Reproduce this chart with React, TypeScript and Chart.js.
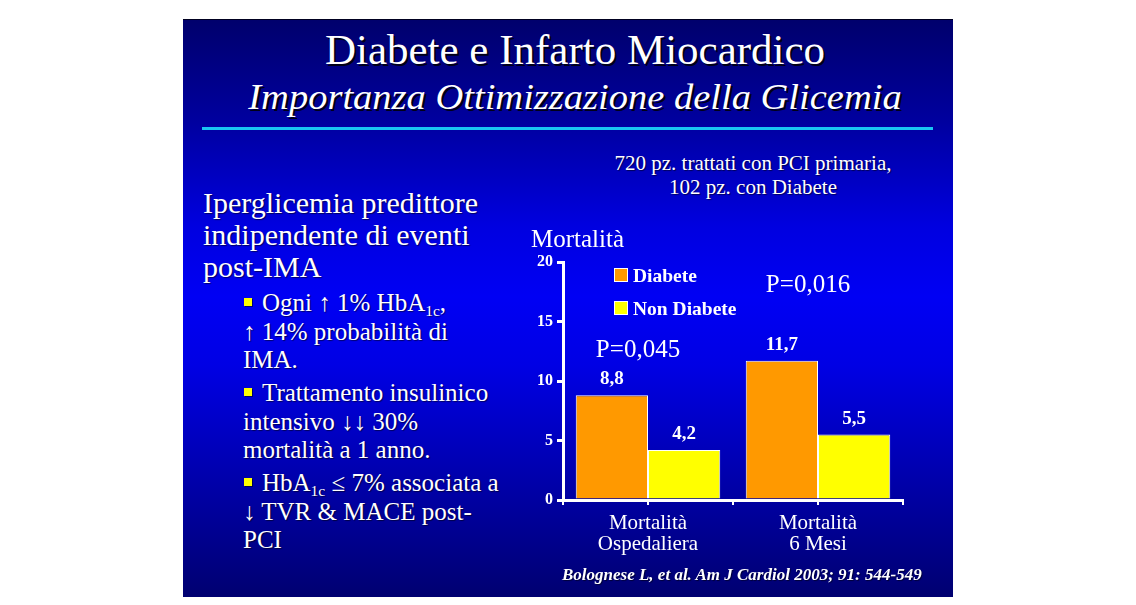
import React, { useEffect, useRef } from "react";
import { Chart, registerables } from "chart.js";

Chart.register(...registerables);

const categories: string[][] = [["Mortalità", "Ospedaliera"], ["Mortalità", "6 Mesi"]];
const seriesNames = ["Diabete", "Non Diabete"];
const diabete = [8.8, 11.7];
const nonDiabete = [4.2, 5.5];
const seriesColors = ["#FF9900", "#FFFF00"];
const pValues = ["P=0,045", "P=0,016"];
const pLevels = [12.0, 17.5];
const yTicks = [0, 5, 10, 15, 20];

const SERIF = "'Liberation Serif', 'Times New Roman', serif";

const fmt = (v: number) => v.toFixed(1).replace(".", ",");

const overlayPlugin = {
  id: "slideOverlay",
  afterDraw(chart: any) {
    const ctx = chart.ctx;
    const xs = chart.scales.x;
    const ys = chart.scales.y;
    const area = chart.chartArea;
    ctx.save();
    // x-axis tick marks at category boundaries and centres
    ctx.strokeStyle = "#ffffff";
    ctx.lineWidth = 2;
    const n = chart.data.labels.length;
    for (let i = 0; i <= n * 2; i++) {
      const v = -0.5 + i * 0.5;
      const px = xs.getPixelForValue(v);
      ctx.beginPath();
      ctx.moveTo(px, area.bottom);
      ctx.lineTo(px, area.bottom + 5);
      ctx.stroke();
    }
    // value labels
    ctx.fillStyle = "#ffffff";
    ctx.font = `bold 19px ${SERIF}`;
    ctx.textAlign = "center";
    ctx.textBaseline = "alphabetic";
    chart.data.datasets.forEach((ds: any, di: number) => {
      const meta = chart.getDatasetMeta(di);
      meta.data.forEach((bar: any, i: number) => {
        ctx.fillText(fmt(ds.data[i]), bar.x, bar.y - 11);
      });
    });
    // p-values
    ctx.font = `25px ${SERIF}`;
    pValues.forEach((t, i) => {
      ctx.fillText(t, xs.getPixelForValue(i) - 10, ys.getPixelForValue(pLevels[i]));
    });
    // y-axis title
    ctx.textAlign = "left";
    ctx.font = `25px ${SERIF}`;
    ctx.fillText("Mortalità", area.left - 32, area.top - 15);
    // legend
    ctx.font = `bold 19.5px ${SERIF}`;
    chart.data.datasets.forEach((ds: any, di: number) => {
      const lx = area.left + 51;
      const ly = area.top + 6 + di * 33;
      ctx.fillStyle = ds.backgroundColor;
      ctx.fillRect(lx, ly, 14, 14);
      ctx.strokeStyle = "#ffffff";
      ctx.lineWidth = 1;
      ctx.strokeRect(lx + 0.5, ly + 0.5, 13, 13);
      ctx.fillStyle = "#ffffff";
      ctx.fillText(ds.label, lx + 19, ly + 14);
    });
    ctx.restore();
  },
};

function BarChart() {
  const ref = useRef<HTMLCanvasElement>(null);
  useEffect(() => {
    if (!ref.current) return;
    const chart = new Chart(ref.current, {
      type: "bar",
      data: {
        labels: categories,
        datasets: [
          {
            label: seriesNames[0],
            data: diabete,
            backgroundColor: seriesColors[0],
            borderColor: "#ffffff",
            borderWidth: 1,
          },
          {
            label: seriesNames[1],
            data: nonDiabete,
            backgroundColor: seriesColors[1],
            borderColor: "#ffffff",
            borderWidth: 1,
          },
        ],
      },
      options: {
        animation: false,
        responsive: false,
        maintainAspectRatio: false,
        layout: { padding: { top: 41, right: 27, left: 0, bottom: 0 } },
        plugins: { legend: { display: false }, tooltip: { enabled: false } },
        datasets: { bar: { categoryPercentage: 0.85, barPercentage: 1 } },
        scales: {
          x: {
            grid: { display: false },
            border: { display: true, color: "#ffffff", width: 3 },
            ticks: {
              color: "#ffffff",
              font: { family: SERIF, size: 21, lineHeight: 1.0 },
              padding: 5,
              maxRotation: 0,
              autoSkip: false,
            },
            afterFit: (s: any) => {
              s.height = 66;
            },
          },
          y: {
            min: 0,
            max: 20,
            afterBuildTicks: (s: any) => {
              s.ticks = yTicks.map((v) => ({ value: v }));
            },
            grid: {
              display: true,
              drawOnChartArea: false,
              drawTicks: true,
              tickLength: 6,
              color: "#ffffff",
              lineWidth: 3,
            },
            border: { display: true, color: "#ffffff", width: 3 },
            ticks: {
              color: "#ffffff",
              font: { family: SERIF, size: 16, weight: "bold" },
              padding: 4,
            },
            afterFit: (s: any) => {
              s.width = 53;
            },
          },
        },
      },
      plugins: [overlayPlugin],
    } as any);
    return () => chart.destroy();
  }, []);
  return <canvas ref={ref} width={420} height={345} style={{ position: "absolute", left: 327, top: 202, width: 420, height: 345 }} />;
}

const shadow = "1px 1px 1px rgba(0,0,0,0.55)";
const sub = (t: string) => (
  <span style={{ fontSize: "0.62em", verticalAlign: "-0.3em", lineHeight: 0 }}>{t}</span>
);
const Bullet = () => (
  <span
    style={{
      display: "inline-block",
      width: 8,
      height: 8,
      background: "#ffff00",
      marginRight: 10,
      marginLeft: 1,
      verticalAlign: "0.2em",
      boxShadow: "1px 1px 0 rgba(0,0,0,0.5)",
    }}
  />
);

export default function App() {
  const lineStyle: React.CSSProperties = { height: 28.5, lineHeight: "28.5px", whiteSpace: "nowrap" };
  return (
    <div style={{ position: "fixed", left: 0, top: 0, width: 1136, height: 605, background: "#ffffff", overflow: "hidden" }}>
      <div
        style={{
          position: "absolute",
          left: 183,
          top: 19,
          width: 770,
          height: 578,
          background:
            "linear-gradient(to bottom, #00006c 0%, #0000a0 18%, #0000e0 36%, #0000f4 48%, #0000e4 60%, #0000b0 78%, #000070 100%)",
          fontFamily: SERIF,
          color: "#ffffff",
        }}
      >
        <div style={{ position: "absolute", left: 0, top: 0, width: 770, height: 1, background: "#000020" }} />
        <div style={{ position: "absolute", left: 7, width: 770, top: 8, textAlign: "center", fontSize: 43, lineHeight: "46px", whiteSpace: "nowrap", textShadow: "2px 2px 0 #000018" }}>
          Diabete e Infarto Miocardico
        </div>
        <div style={{ position: "absolute", left: 7, width: 770, top: 59, textAlign: "center", fontSize: 35, fontStyle: "italic", lineHeight: "40px", whiteSpace: "nowrap", transform: "scaleX(1.1)", transformOrigin: "center", textShadow: "2px 2px 0 #000018" }}>
          Importanza Ottimizzazione della Glicemia
        </div>
        <div style={{ position: "absolute", left: 19, width: 731, top: 107.5, height: 3, background: "#19c6f2" }} />
        <div style={{ position: "absolute", left: 380, width: 380, top: 133, textAlign: "center", fontSize: 21, lineHeight: "23.5px", whiteSpace: "nowrap", textShadow: shadow }}>
          720 pz. trattati con PCI primaria,
          <br />
          102 pz. con Diabete
        </div>
        <div style={{ position: "absolute", left: 20, top: 168, fontSize: 30, lineHeight: "32px", textShadow: shadow, whiteSpace: "nowrap" }}>
          Iperglicemia predittore
          <br />
          indipendente di eventi
          <br />
          post-IMA
        </div>
        <div style={{ position: "absolute", left: 60, top: 270, fontSize: 25, textShadow: shadow }}>
          <div style={lineStyle}>
            <Bullet />Ogni ↑ 1% HbA{sub("1c")},
          </div>
          <div style={lineStyle}>↑ 14% probabilità di</div>
          <div style={lineStyle}>IMA.</div>
          <div style={{ ...lineStyle, marginTop: 4.5 }}>
            <Bullet />Trattamento insulinico
          </div>
          <div style={lineStyle}>intensivo ↓↓ 30%</div>
          <div style={lineStyle}>mortalità a 1 anno.</div>
          <div style={{ ...lineStyle, marginTop: 4.5 }}>
            <Bullet />HbA{sub("1c")} ≤ 7% associata a
          </div>
          <div style={lineStyle}>↓ TVR &amp; MACE post-</div>
          <div style={lineStyle}>PCI</div>
        </div>
        <BarChart />
        <div style={{ position: "absolute", left: 379, top: 547, fontSize: 17, fontStyle: "italic", fontWeight: "bold", lineHeight: "18px", whiteSpace: "nowrap", textShadow: shadow }}>
          Bolognese L, et al. Am J Cardiol 2003; 91: 544-549
        </div>
      </div>
    </div>
  );
}
